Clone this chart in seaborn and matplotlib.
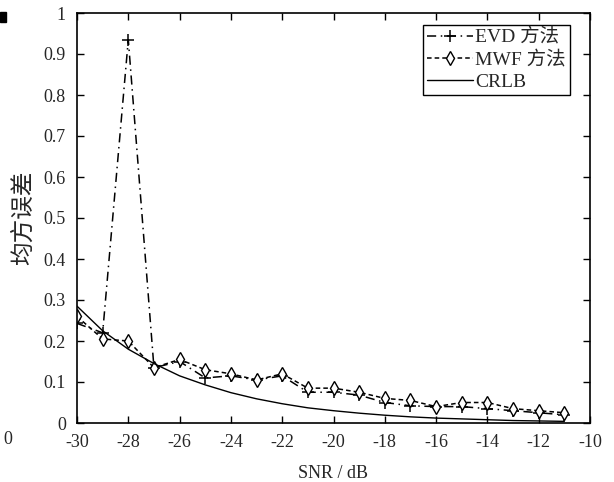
import numpy as np
import pandas as pd
import matplotlib.pyplot as plt
import matplotlib.patches as mpatches
import seaborn as sns

snr = [-30, -29, -28, -27, -26, -25, -24, -23, -22, -21,
       -20, -19, -18, -17, -16, -15, -14, -13, -12, -11]
evd = [0.243, 0.22, 0.935, 0.135, 0.15, 0.11, 0.115, 0.105, 0.115, 0.075,
       0.075, 0.068, 0.05, 0.042, 0.04, 0.04, 0.035, 0.03, 0.025, 0.02]
mwf = [0.26, 0.205, 0.2, 0.135, 0.155, 0.13, 0.12, 0.105, 0.12, 0.085,
       0.085, 0.075, 0.06, 0.055, 0.04, 0.05, 0.05, 0.035, 0.03, 0.025]
crlb = [0.285, 0.225, 0.18, 0.145, 0.115, 0.093, 0.074, 0.059, 0.047, 0.037,
        0.03, 0.024, 0.019, 0.015, 0.012, 0.01, 0.008, 0.006, 0.005, 0.004]

df = pd.DataFrame({'snr': snr, 'EVD 方法': evd, 'MWF 方法': mwf, 'CRLB': crlb})

sns.set_theme(style='ticks')
plt.rcParams['font.family'] = ['Liberation Serif', 'Noto Sans CJK SC']
plt.rcParams['xtick.direction'] = 'in'
plt.rcParams['ytick.direction'] = 'in'
plt.rcParams['axes.unicode_minus'] = False

fig = plt.figure(figsize=(6.14, 4.82), dpi=100)
ax = fig.add_axes([77/614, 59/482, 513/614, 410/482])

sns.lineplot(x='snr', y='EVD 方法', data=df, ax=ax, color='black', lw=1.1,
             linestyle=(0, (6, 3, 1, 3)), marker='+', markersize=9, mew=1.1,
             mec='black', label='EVD 方法')
sns.lineplot(x='snr', y='MWF 方法', data=df, ax=ax, color='black', lw=1.1,
             linestyle=(0, (3, 2)), marker='d', markersize=7, mfc='white',
             mec='black', mew=1.0, label='MWF 方法')
sns.lineplot(x='snr', y='CRLB', data=df, ax=ax, color='black', lw=1.0,
             label='CRLB')

ax.set_xlim(-30, -10)
ax.set_ylim(0, 1)
ax.set_xticks(np.arange(-30, -9, 2))
ax.set_yticks(np.arange(0, 1.01, 0.1))
ax.set_yticklabels(['0', '0.1', '0.2', '0.3', '0.4', '0.5', '0.6', '0.7', '0.8', '0.9', '1'])
ax.tick_params(top=True, right=True, labelsize=13, length=5, width=1, color='black', pad=8)
for s in ax.spines.values():
    s.set_color('black')
    s.set_linewidth(1.2)
ax.set_xlabel('SNR / dB', fontsize=13, labelpad=10)
ax.set_ylabel('均方误差', fontsize=17, labelpad=6)

lg = ax.legend(loc='upper right', bbox_to_anchor=(0.972, 0.985), fontsize=14,
               frameon=True, fancybox=False, edgecolor='black', framealpha=1,
               borderpad=0.2, labelspacing=0.22, handlelength=2.4, handletextpad=0.1,
               borderaxespad=0.3)
lg.get_frame().set_linewidth(1.0)

# cropped remnants of a neighbouring panel
fig.text(8/614, 1 - 440/482, '0', fontsize=13, ha='center', va='center')
fig.patches.append(mpatches.Rectangle((0, 1 - 22/482), 6/614, 10/482,
                                      transform=fig.transFigure, color='black'))

plt.savefig('out.png', dpi=100)
